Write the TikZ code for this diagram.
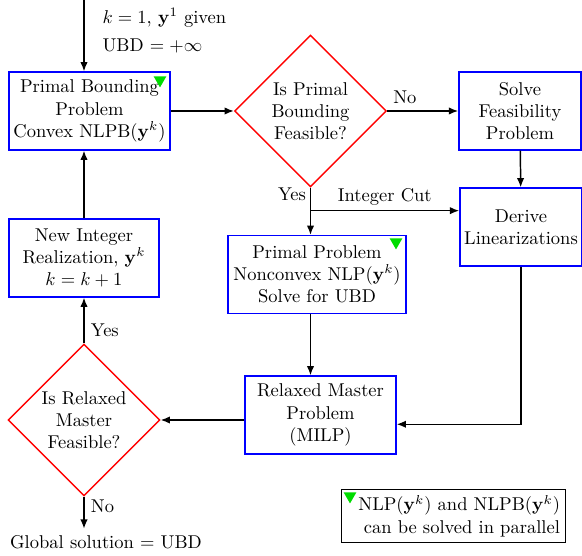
\documentclass[tikz,border=0pt]{standalone}
\usetikzlibrary{shapes.geometric,arrows.meta}
\definecolor{pargreen}{RGB}{0,220,0}
\tikzset{
  stepbox/.style={draw=blue,line width=0.8pt,align=center,inner sep=2pt,minimum height=42pt},
  decision/.style={draw=red,line width=0.8pt,diamond,align=center,inner sep=0pt,minimum size=82pt},
  parmark/.style={regular polygon,regular polygon sides=3,shape border rotate=180,fill=pargreen,inner sep=0pt,minimum size=8pt},
  flow/.style={line width=0.8pt,-{Latex[length=5pt,width=4pt]}}
}
\begin{document}
\begin{tikzpicture}[x=0.54pt,y=0.54pt,yscale=-1,xscale=1]
\useasboundingbox (0,0) rectangle (582,556);

% Process Nodes
\node[stepbox,minimum width=87pt] (pbp) at (89.5,111) {Primal Bounding\\Problem\\Convex NLPB($\mathbf{y}^k$)};
\node[decision] (pbd) at (310.5,111) {Is Primal\\Bounding\\Feasible?};
\node[stepbox,minimum width=66pt] (sfp) at (520,111) {Solve\\Feasibility\\Problem};
\node[stepbox,minimum width=66pt] (dl) at (521,227) {Derive\\Linearizations};
\node[stepbox,minimum width=96pt] (ppp) at (317,274.5) {Primal Problem\\Nonconvex NLP($\mathbf{y}^k$)\\Solve for UBD};
\node[stepbox,minimum width=81.5pt] (rmp) at (320.5,415) {Relaxed Master\\Problem\\(MILP)};
\node[decision] (rmd) at (84,420) {Is Relaxed\\Master\\Feasible?};
\node[stepbox,minimum width=81pt] (nir) at (84,258) {New Integer\\Realization, $\mathbf{y}^k$\\$k=k+1$};

% Parallel Marks
\node[parmark] (mk1) at (160,80) {};
\node[parmark] (mk2) at (396,242) {};
\node[parmark] (mk3) at (350,496) {};

% Text Node
\node[anchor=west] (given) at (96,18) {$k=1$, $\mathbf{y}^1$ given};
% Text Node
\node[anchor=west] (ubd) at (96,46) {UBD $=+\infty$};
% Text Node
\node (sol) at (106,542) {Global solution $=$ UBD};
% Text Node
\node (yes1) at (292,194) {Yes};
% Text Node
\node[draw,line width=0.8pt,text width=115pt,align=right,inner sep=3pt] (legend) at (453.5,516) {NLP($\mathbf{y}^k$) and NLPB($\mathbf{y}^k$)\\can be solved in parallel};

% Connectors
\coordinate (start) at (84,0);
\draw[flow] (start) -- (start |- pbp.north);
\draw[flow] (pbp) -- (pbd);
\draw[flow] (pbd) -- node[above,pos=0.25] (no1) {No} (sfp);
\draw[flow] (sfp) -- (dl);
\draw[flow] (pbd.south) -- (pbd.south |- ppp.north);
\path (pbd.south) ++(0,23) coordinate (cut);
\draw[flow] (cut) -- node[above,yshift=-1pt] (icut) {Integer Cut} (cut -| dl.west);
\draw[flow] (pbd.south |- ppp.south) -- (pbd.south |- rmp.north);
\draw[flow] (dl.south) |- ([yshift=5pt]rmp.east);
\draw[flow] (rmp.west |- rmd) -- (rmd.east);
\draw[flow] (rmd) -- node[right,pos=0.28] (yes2) {Yes} (nir);
\draw[flow] (nir) -- (nir |- pbp.south);
\draw[flow] (rmd.south) -- node[right,pos=0.3] (no2) {No} (rmd.south |- sol.north);

\end{tikzpicture}
\end{document}
